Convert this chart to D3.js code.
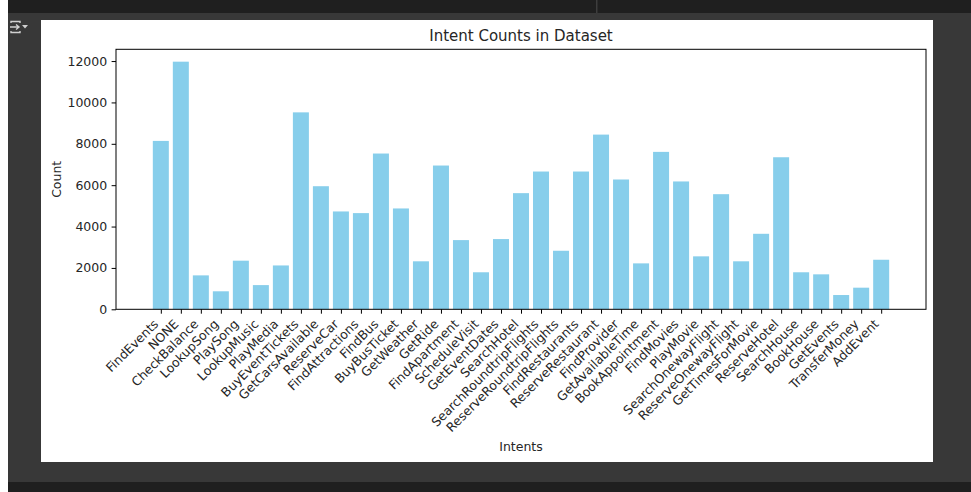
<!DOCTYPE html>
<html>
<head>
<meta charset="utf-8">
<script src="https://cdn.jsdelivr.net/npm/d3@7"></script>
<style>
  html, body { margin: 0; padding: 0; background: #383838; }
  svg { display: block; }
  text { font-family: "DejaVu Sans", sans-serif; fill: #262626; }
</style>
</head>
<body>
<svg id="chart" width="971" height="492"></svg>
<script>
// Intent names, in dataset order
const intents = [
  "FindEvents", "NONE", "CheckBalance", "LookupSong", "PlaySong", "LookupMusic",
  "PlayMedia", "BuyEventTickets", "GetCarsAvailable", "ReserveCar", "FindAttractions",
  "FindBus", "BuyBusTicket", "GetWeather", "GetRide", "FindApartment", "ScheduleVisit",
  "GetEventDates", "SearchHotel", "SearchRoundtripFlights", "ReserveRoundtripFlights",
  "FindRestaurants", "ReserveRestaurant", "FindProvider", "GetAvailableTime",
  "BookAppointment", "FindMovies", "PlayMovie", "SearchOnewayFlight",
  "ReserveOnewayFlight", "GetTimesForMovie", "ReserveHotel", "SearchHouse",
  "BookHouse", "GetEvents", "TransferMoney", "AddEvent"
];

// Number of examples per intent
const counts = [
  8140, 11970, 1640, 870, 2350, 1170,
  2120, 9520, 5950, 4730, 4650,
  7530, 4875, 2320, 6950, 3345, 1790,
  3395, 5615, 6660, 2830,
  6660, 8445, 6275, 2220,
  7610, 6180, 2560, 5565,
  2320, 3650, 7350, 1790,
  1690, 690, 1045, 2395
];

const yTicks = [0, 2000, 4000, 6000, 8000, 10000, 12000];

const titleText = "Intent Counts in Dataset";
const xLabel = "Intents";
const yLabel = "Count";

(function draw() {
  const svg = d3.select("#chart");

  // Notebook surroundings
  svg.append("rect").attr("x", 0).attr("y", 0).attr("width", 8).attr("height", 492).attr("fill", "#ffffff");
  svg.append("rect").attr("x", 8).attr("y", 0).attr("width", 963).attr("height", 13).attr("fill", "#1f1f1f");
  svg.append("rect").attr("x", 8).attr("y", 13).attr("width", 963).attr("height", 469).attr("fill", "#383838");
  svg.append("rect").attr("x", 8).attr("y", 482).attr("width", 963).attr("height", 10).attr("fill", "#1f1f1f");
  svg.append("rect").attr("x", 596).attr("y", 0).attr("width", 1.5).attr("height", 13).attr("fill", "#3d3d3d");

  // Output toggle icon
  const icon = svg.append("g").attr("fill", "none").attr("stroke", "#d0d0d0").attr("stroke-width", 1.4);
  icon.append("path").attr("d", "M11,23 V21.5 H20 V23");
  icon.append("path").attr("d", "M11,31 V32.5 H20 V31");
  icon.append("path").attr("d", "M10,27 H19 M16,24.5 L19,27 L16,29.5");
  svg.append("path").attr("d", "M22,25 H28 L25,28.5 Z").attr("fill", "#d0d0d0");

  // Figure canvas
  svg.append("rect").attr("x", 41).attr("y", 20).attr("width", 892).attr("height", 442).attr("fill", "#ffffff");

  // Plot area
  const plotLeft = 116, plotRight = 926, plotTop = 49.3, plotBottom = 309.3;
  const n = intents.length;
  const barWidth = 0.8;
  const margin = 0.05 * (n - 1 + barWidth);

  const x = d3.scaleLinear()
    .domain([-barWidth / 2 - margin, n - 1 + barWidth / 2 + margin])
    .range([plotLeft, plotRight]);

  const y = d3.scaleLinear()
    .domain([0, d3.max(counts) * 1.05])
    .range([plotBottom, plotTop]);

  const data = intents.map((name, i) => ({ name, i, value: counts[i] }));

  svg.append("g")
    .selectAll("rect")
    .data(data)
    .join("rect")
    .attr("x", d => x(d.i - barWidth / 2))
    .attr("width", d => x(d.i + barWidth / 2) - x(d.i - barWidth / 2))
    .attr("y", d => y(d.value))
    .attr("height", d => y(0) - y(d.value))
    .attr("fill", "#87ceeb");

  // Y axis
  const yAxis = d3.axisLeft(y).tickValues(yTicks).tickFormat(d3.format("d")).tickSize(4.4).tickPadding(4.4);
  const gy = svg.append("g").attr("transform", `translate(${plotLeft},0)`).call(yAxis);
  gy.select(".domain").remove();
  gy.selectAll("line").attr("stroke", "#000").attr("stroke-width", 1);
  gy.selectAll("text").attr("font-size", 12.5).attr("font-family", "DejaVu Sans, sans-serif").attr("fill", "#262626");

  // X axis with rotated labels
  const xAxis = d3.axisBottom(x).tickValues(d3.range(n)).tickFormat(i => intents[i]).tickSize(4.4).tickPadding(0);
  const gx = svg.append("g").attr("transform", `translate(0,${plotBottom})`).call(xAxis);
  gx.select(".domain").remove();
  gx.selectAll("line").attr("stroke", "#000").attr("stroke-width", 1);
  gx.selectAll("text")
    .attr("font-size", 12.5)
    .attr("font-family", "DejaVu Sans, sans-serif")
    .attr("fill", "#262626")
    .attr("text-anchor", "end")
    .attr("dy", null)
    .attr("y", null)
    .attr("transform", "translate(-2.1,15.5) rotate(-45)");

  // Frame
  svg.append("rect")
    .attr("x", plotLeft).attr("y", plotTop)
    .attr("width", plotRight - plotLeft).attr("height", plotBottom - plotTop)
    .attr("fill", "none").attr("stroke", "#000").attr("stroke-width", 1);

  // Title and axis labels
  svg.append("text")
    .attr("x", (plotLeft + plotRight) / 2).attr("y", 41)
    .attr("text-anchor", "middle").attr("font-size", 15)
    .text(titleText);

  svg.append("text")
    .attr("x", (plotLeft + plotRight) / 2).attr("y", 451)
    .attr("text-anchor", "middle").attr("font-size", 12.5)
    .text(xLabel);

  svg.append("text")
    .attr("transform", `translate(61,${(plotTop + plotBottom) / 2}) rotate(-90)`)
    .attr("text-anchor", "middle").attr("font-size", 12.5)
    .text(yLabel);
})();
</script>
</body>
</html>
